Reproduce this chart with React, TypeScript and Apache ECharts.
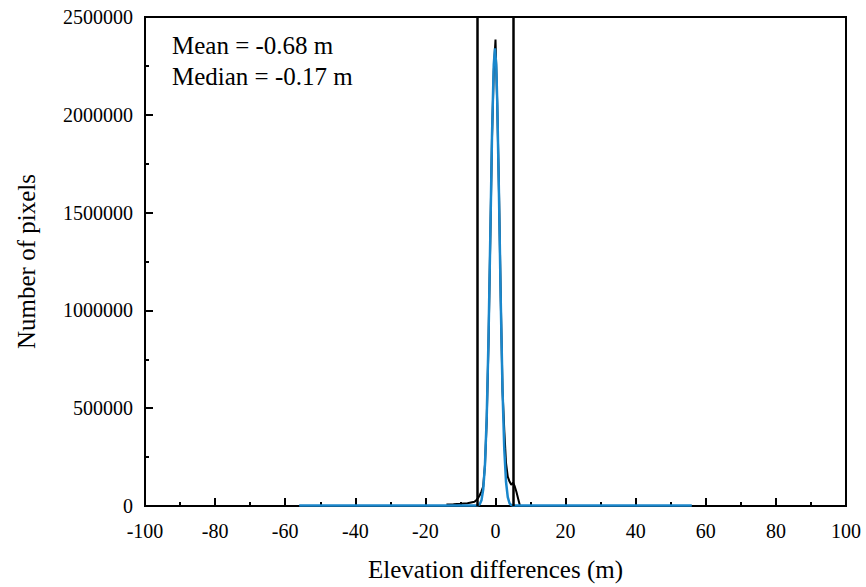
import React, { useEffect, useRef } from "react";
import * as echarts from "echarts";

const blackX = [-14, -12, -10, -8, -6, -5.5, -5, -4.5, -4, -3.5, -3, -2.5, -2, -1.5, -1, -0.5, 0, 0.5, 1, 1.5, 2, 2.5, 3, 3.5, 4, 4.5, 5, 5.5, 6, 6.5, 7];
const blackY = [8000, 9000, 11000, 14000, 22000, 30000, 40000, 55000, 75000, 100000, 210000, 440000, 830000, 1350000, 1880000, 2220000, 2385000, 2050000, 1600000, 1060000, 590000, 390000, 220000, 150000, 125000, 108000, 120000, 100000, 70000, 35000, 0];

const blueX = [-56, -10, -6, -5, -4.5, -4, -3.5, -3, -2.5, -2, -1.5, -1, -0.5, -0.15, 0.2, 0.5, 1, 1.5, 2, 2.5, 3, 3.5, 4, 4.5, 5, 10, 56];
const blueY = [3000, 3000, 3000, 4000, 9000, 29000, 85000, 212000, 457000, 851000, 1364000, 1890000, 2256000, 2340000, 2256000, 2065000, 1580000, 1046000, 595000, 293000, 124000, 45000, 14000, 5000, 3000, 3000, 3000];

const boundLines = [-5.2, 5.2];
const xTicks = { min: -100, max: 100, interval: 20 };
const yTicks = { min: 0, max: 2500000, interval: 500000 };
const notes = ["Mean = -0.68 m", "Median = -0.17 m"];

const FONT = "'Liberation Serif', 'Times New Roman', serif";

export default function App() {
  const ref = useRef<HTMLDivElement>(null);
  useEffect(() => {
    if (!ref.current) return;
    const chart = echarts.init(ref.current, null, { renderer: "svg" });
    const axisCommon = {
      axisLine: { show: true, onZero: false, lineStyle: { color: "#000", width: 2 } },
      axisTick: { show: true, inside: true, length: 8, lineStyle: { color: "#000", width: 2 } },
      minorTick: { show: true, splitNumber: 2, length: 4, lineStyle: { color: "#000", width: 2 } },
      splitLine: { show: false },
      minorSplitLine: { show: false },
    };
    chart.setOption({
      animation: false,
      backgroundColor: "#fff",
      grid: { left: 145, right: 20, top: 17, bottom: 76, show: true, borderColor: "#000", borderWidth: 2, backgroundColor: "transparent" },
      xAxis: {
        type: "value",
        ...xTicks,
        ...axisCommon,
        axisLabel: { fontFamily: FONT, fontSize: 20, color: "#000", margin: 15, formatter: (v: number) => String(v) },
        name: "Elevation differences (m)",
        nameLocation: "middle",
        nameGap: 51,
        nameTextStyle: { fontFamily: FONT, fontSize: 25, color: "#000" },
      },
      yAxis: {
        type: "value",
        ...yTicks,
        ...axisCommon,
        axisLabel: { fontFamily: FONT, fontSize: 20, color: "#000", margin: 12, formatter: (v: number) => String(v) },
        name: "Number of pixels",
        nameLocation: "middle",
        nameGap: 106,
        nameTextStyle: { fontFamily: FONT, fontSize: 25, color: "#000" },
      },
      series: [
        {
          type: "line",
          data: blackX.map((x, i) => [x, blackY[i]]),
          showSymbol: false,
          symbol: "none",
          lineStyle: { color: "#000", width: 2 },
          z: 2,
          markLine: {
            silent: true,
            symbol: "none",
            label: { show: false },
            lineStyle: { color: "#000", width: 2.5, type: "solid" },
            data: boundLines.map((v) => ({ xAxis: v })),
          },
        },
        {
          type: "line",
          data: blueX.map((x, i) => [x, blueY[i]]),
          showSymbol: false,
          symbol: "none",
          lineStyle: { color: "#1a87cc", width: 2.5 },
          z: 3,
        },
      ],
      graphic: notes.map((t, i) => ({
        type: "text",
        left: 172,
        top: 33 + i * 31,
        style: { text: t, fontFamily: FONT, fontSize: 25, fill: "#000" },
      })),
    });
    return () => chart.dispose();
  }, []);
  return <div ref={ref} style={{ position: "fixed", left: 0, top: 0, width: 866, height: 587 }} />;
}
